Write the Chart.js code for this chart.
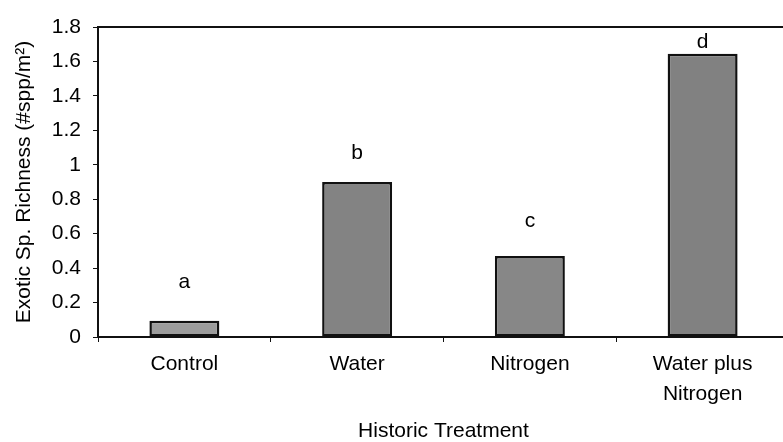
<!DOCTYPE html>
<html>
<head>
<meta charset="utf-8">
<script src="https://cdn.jsdelivr.net/npm/chart.js@4/dist/chart.umd.min.js"></script>
<style>
  body { margin: 0; overflow: hidden; background: #fff; }
</style>
</head>
<body>
<canvas id="myChart" width="800" height="442"></canvas>
<script>
var categories = ['Control', 'Water', 'Nitrogen', ['Water plus', 'Nitrogen']];
var richness = [0.095, 0.9, 0.47, 1.645];
var letters = ['a', 'b', 'c', 'd'];
var letterPos = [0.32, 1.07, 0.67, 1.71];
var yTicks = ['0', '0.2', '0.4', '0.6', '0.8', '1', '1.2', '1.4', '1.6', '1.8'];

var font = 'Arial, "Liberation Sans", sans-serif';

// letters above the bars + top border of the plot
var extras = {
  id: 'extras',
  afterDatasetsDraw: function(chart) {
    var ctx = chart.ctx;
    var area = chart.chartArea;
    var x = chart.scales.x, y = chart.scales.y;
    ctx.save();
    ctx.strokeStyle = '#111';
    ctx.lineWidth = 2;
    ctx.beginPath();
    ctx.moveTo(area.left, area.top);
    ctx.lineTo(area.right, area.top);
    ctx.stroke();
    ctx.fillStyle = '#000';
    ctx.font = '21px ' + font;
    ctx.textAlign = 'center';
    ctx.textBaseline = 'middle';
    for (var i = 0; i < letters.length; i++) {
      ctx.fillText(letters[i], x.getPixelForValue(i), y.getPixelForValue(letterPos[i]));
    }
    ctx.restore();
  }
};

var ctx = document.getElementById('myChart').getContext('2d');
var myChart = new Chart(ctx, {
  type: 'bar',
  data: {
    labels: categories,
    datasets: [{
      data: richness,
      backgroundColor: ['#9c9c9c', '#838383', '#878787', '#818181'],
      borderColor: '#111',
      borderWidth: 2.5,
      borderSkipped: false,
      barPercentage: 0.405,
      categoryPercentage: 1
    }]
  },
  options: {
    responsive: false,
    animation: false,
    layout: { padding: { top: 27, right: 11, left: 0, bottom: 0 } },
    plugins: {
      legend: { display: false },
      tooltip: { enabled: false }
    },
    scales: {
      x: {
        grid: { drawOnChartArea: false, tickLength: 5, color: '#111', offset: true },
        border: { color: '#111', width: 2 },
        ticks: { color: '#000', font: { family: font, size: 21, lineHeight: 1.4 }, padding: 8, maxRotation: 0 },
        title: { display: true, text: 'Historic Treatment', color: '#000', font: { family: font, size: 21, lineHeight: 1 }, padding: { top: 0, bottom: 0 } },
        afterFit: function(s) { s.height = 105; }
      },
      y: {
        min: 0,
        max: 1.8,
        ticks: {
          stepSize: 0.2,
          color: '#000',
          font: { family: font, size: 21 },
          padding: 12,
          callback: function(v, i) { return yTicks[i]; }
        },
        grid: { drawOnChartArea: false, tickLength: 5, color: '#111' },
        border: { color: '#111', width: 2 },
        title: { display: true, text: 'Exotic Sp. Richness (#spp/m\u00B2)', color: '#000', font: { family: font, size: 21 }, padding: { top: 12, bottom: 4 } },
        afterFit: function(s) { s.width = 98; }
      }
    }
  },
  plugins: [extras]
});
</script>
</body>
</html>
